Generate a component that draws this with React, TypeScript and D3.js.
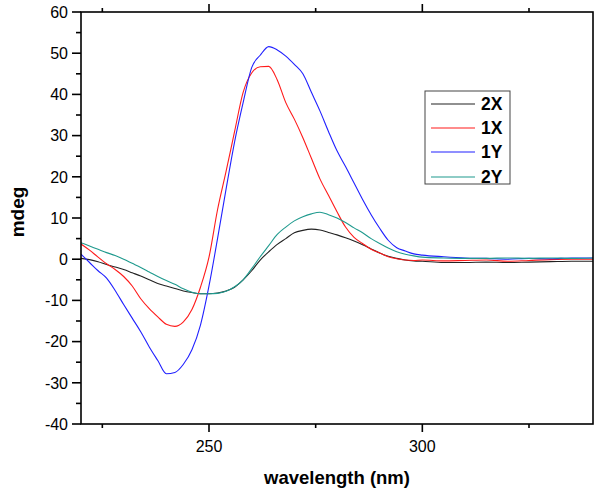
import React from "react";
import * as d3 from "d3";

const wavelengths = [
  220, 222, 224, 226, 228, 230, 232, 234, 236, 238, 240, 242, 244, 246, 248, 250,
  252, 254, 256, 258, 260, 262, 264, 266, 268, 270, 272, 274, 276, 278, 280, 282,
  284, 286, 288, 290, 292, 294, 296, 298, 300, 305, 310, 315, 320, 325, 330, 335, 340,
];

const series2X = [
  0.2, -0.1, -0.6, -1.3, -1.9, -2.5, -3.3, -4.1, -5.0, -5.9, -6.5, -7.1, -7.7, -8.1, -8.4, -8.4,
  -8.2, -7.7, -6.8, -5.0, -2.8, -0.2, 1.8, 3.6, 5.0, 6.4, 7.0, 7.3, 7.1, 6.5, 5.9, 5.2,
  4.4, 3.5, 2.5, 1.5, 0.7, 0.2, -0.2, -0.4, -0.5, -0.8, -0.8, -0.7, -0.8, -0.7, -0.6, -0.5, -0.5,
];

const series1X = [
  3.7, 2.2, 0.5, -1.1, -2.5, -4.2, -6.5, -9.6, -12.0, -14.0, -15.8, -16.3, -15.2, -12.2, -6.8, 0.5,
  12.0, 21.3, 31.0, 40.5, 45.2, 46.7, 46.8, 43.5, 38.0, 34.0, 29.5, 24.5, 19.5, 15.5, 11.5, 7.8,
  5.3, 3.8, 2.4, 1.5, 0.6, 0.1, -0.2, -0.3, -0.2, -0.4, -0.3, -0.2, -0.5, -0.3, -0.1, 0.0, 0.0,
];

const series1Y = [
  1.2, -0.8, -2.8, -4.6, -7.6, -11.0, -14.3, -17.6, -21.3, -24.6, -27.8, -27.5, -25.5, -22.0, -16.0, -6.5,
  5.0, 17.0, 28.5, 38.0, 46.5, 49.5, 51.6, 50.8, 49.3, 47.3, 45.0, 40.5, 36.0, 31.0, 26.3, 22.5,
  18.5, 14.5, 10.8, 7.5, 4.6, 2.8, 2.0, 1.3, 1.0, 0.6, 0.3, 0.2, 0.0, 0.2, 0.1, 0.3, 0.3,
];

const series2Y = [
  4.0, 3.2, 2.4, 1.6, 0.9, 0.0, -1.0, -2.0, -3.1, -4.2, -5.2, -6.1, -7.2, -8.0, -8.4, -8.4,
  -8.3, -7.8, -6.7, -5.0, -2.3, 0.6, 3.3, 6.0, 7.8, 9.3, 10.3, 11.0, 11.4, 10.8, 10.0, 8.9,
  7.6, 6.4, 5.0, 3.8, 2.7, 1.8, 1.2, 0.8, 0.5, 0.3, 0.2, 0.2, 0.3, 0.2, 0.3, 0.2, 0.3,
];

const seriesNames = ["2X", "1X", "1Y", "2Y"];
const seriesColors = ["#222222", "#ff1a1a", "#2020ff", "#1f9a8e"];
const seriesValues = [series2X, series1X, series1Y, series2Y];

const xMajorTicks = [250, 300];
const xMinorTicks = [225, 275, 325];
const yMajorTicks = [-40, -30, -20, -10, 0, 10, 20, 30, 40, 50, 60];
const yMinorTicks = [-35, -25, -15, -5, 5, 15, 25, 35, 45, 55];

const W = 600;
const H = 491;
const left = 81;
const right = 593;
const top = 12;
const bottom = 424;
const FONT = "'Liberation Sans', Arial, sans-serif";

export default function App() {
  const x = d3.scaleLinear().domain([220, 340]).range([left, right]);
  const y = d3.scaleLinear().domain([-40, 60]).range([bottom, top]);
  const line = d3
    .line<number>()
    .x((_, i) => x(wavelengths[i]))
    .y((d) => y(d))
    .curve(d3.curveMonotoneX);

  const legendX = 425;
  const legendY = 91;
  const legendW = 85;
  const legendH = 93;
  const rowY = [104, 128, 152, 177];

  return (
    <svg
      width={W}
      height={H}
      style={{ position: "absolute", left: 0, top: 0, background: "#fff" }}
    >
      <rect x={0} y={0} width={W} height={H} fill="#fff" />
      <defs>
        <clipPath id="plotclip">
          <rect x={left} y={top} width={right - left} height={bottom - top} />
        </clipPath>
      </defs>
      <g clipPath="url(#plotclip)">
        {seriesValues.map((vals, k) => (
          <path
            key={seriesNames[k]}
            d={line(vals) || ""}
            fill="none"
            stroke={seriesColors[k]}
            strokeWidth={1.1}
          />
        ))}
      </g>
      {/* frame */}
      <rect
        x={left}
        y={top}
        width={right - left}
        height={bottom - top}
        fill="none"
        stroke="#000"
        strokeWidth={1.6}
      />
      {/* y ticks */}
      {yMajorTicks.map((t) => (
        <g key={"ym" + t}>
          <line x1={left - 9} x2={left} y1={y(t)} y2={y(t)} stroke="#000" strokeWidth={1.6} />
          <text
            x={68}
            y={y(t)}
            dy="0.36em"
            textAnchor="end"
            fontFamily={FONT}
            fontSize={16}
            fill="#000"
          >
            {t}
          </text>
        </g>
      ))}
      {yMinorTicks.map((t) => (
        <line key={"yn" + t} x1={left - 5} x2={left} y1={y(t)} y2={y(t)} stroke="#000" strokeWidth={1.6} />
      ))}
      {/* x ticks bottom and top */}
      {xMajorTicks.map((t) => (
        <g key={"xm" + t}>
          <line x1={x(t)} x2={x(t)} y1={bottom} y2={bottom + 8} stroke="#000" strokeWidth={1.6} />
          <line x1={x(t)} x2={x(t)} y1={top} y2={top - 8} stroke="#000" strokeWidth={1.6} />
          <text
            x={x(t)}
            y={452}
            textAnchor="middle"
            fontFamily={FONT}
            fontSize={16}
            fill="#000"
          >
            {t}
          </text>
        </g>
      ))}
      {xMinorTicks.map((t) => (
        <g key={"xn" + t}>
          <line x1={x(t)} x2={x(t)} y1={bottom} y2={bottom + 4} stroke="#000" strokeWidth={1.6} />
          <line x1={x(t)} x2={x(t)} y1={top} y2={top - 4} stroke="#000" strokeWidth={1.6} />
        </g>
      ))}
      {/* axis titles */}
      <text
        x={(left + right) / 2}
        y={484}
        textAnchor="middle"
        fontFamily={FONT}
        fontWeight="bold"
        fontSize={18.5}
        fill="#000"
      >
        wavelength (nm)
      </text>
      <text
        transform={`translate(24,212) rotate(-90)`}
        textAnchor="middle"
        fontFamily={FONT}
        fontWeight="bold"
        fontSize={19}
        fill="#000"
      >
        mdeg
      </text>
      {/* legend */}
      <rect
        x={legendX}
        y={legendY}
        width={legendW}
        height={legendH}
        fill="#fff"
        stroke="#444"
        strokeWidth={1}
      />
      {seriesNames.map((name, k) => (
        <g key={"lg" + name}>
          <line
            x1={431}
            x2={475}
            y1={rowY[k]}
            y2={rowY[k]}
            stroke={seriesColors[k]}
            strokeWidth={1.1}
          />
          <text
            x={481}
            y={rowY[k] + 6}
            fontFamily={FONT}
            fontWeight="bold"
            fontSize={17.5}
            fill="#000"
          >
            {name}
          </text>
        </g>
      ))}
    </svg>
  );
}
